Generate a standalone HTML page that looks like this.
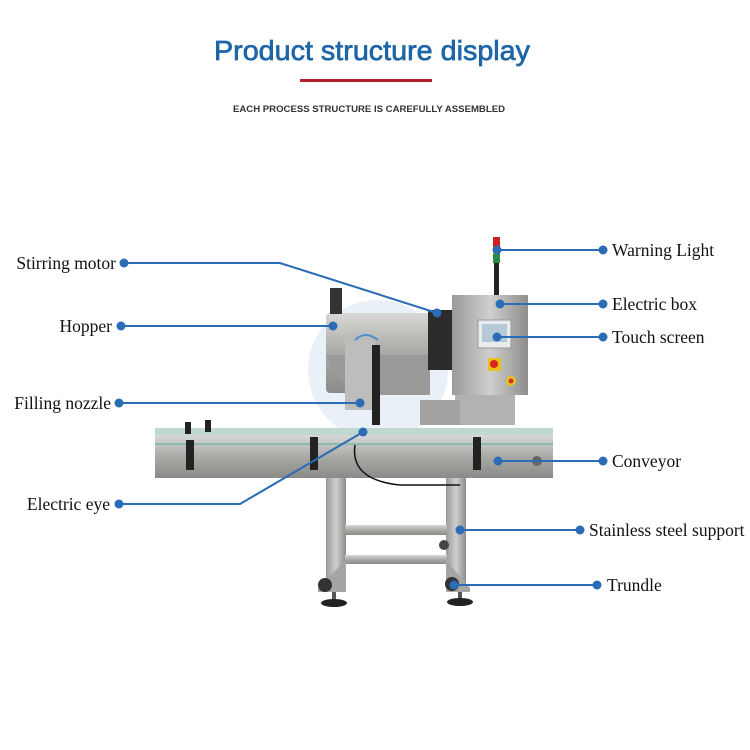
<!DOCTYPE html>
<html><head><meta charset="utf-8"><style>
html,body{margin:0;padding:0;background:#fff}
svg{display:block}
.lb{font-family:"Liberation Serif",serif;font-size:17.5px;fill:#111}
</style></head><body>
<svg width="750" height="750" viewBox="0 0 750 750" xmlns="http://www.w3.org/2000/svg">
<defs>
<linearGradient id="st" x1="0" y1="0" x2="0" y2="1"><stop offset="0" stop-color="#d8d8d6"/><stop offset="0.5" stop-color="#a9a9a6"/><stop offset="1" stop-color="#8a8a88"/></linearGradient>
<linearGradient id="st2" x1="0" y1="0" x2="1" y2="0"><stop offset="0" stop-color="#9a9a98"/><stop offset="0.5" stop-color="#cfcfcd"/><stop offset="1" stop-color="#8d8d8b"/></linearGradient>
</defs>
<text x="372" y="60" text-anchor="middle" font-family="Liberation Sans,sans-serif" font-size="28" fill="#1d66a8" stroke="#1d66a8" stroke-width="0.7" textLength="316" lengthAdjust="spacingAndGlyphs">Product structure display</text>
<rect x="300" y="79" width="132" height="3" fill="#b3202c"/>
<text x="369" y="112" text-anchor="middle" font-family="Liberation Sans,sans-serif" font-size="9" font-weight="bold" fill="#333" textLength="272" lengthAdjust="spacingAndGlyphs">EACH PROCESS STRUCTURE IS CAREFULLY ASSEMBLED</text>

<circle cx="378" cy="370" r="70" fill="#dbe6f3" opacity="0.6"/>

<rect x="326" y="478" width="20" height="110" fill="url(#st2)"/>
<rect x="446" y="478" width="20" height="110" fill="url(#st2)"/>
<rect x="345" y="525" width="102" height="10" fill="url(#st)"/>
<rect x="345" y="555" width="102" height="9" fill="url(#st)"/>
<path d="M318 588 L346 560 L346 592 L318 592Z" fill="#a5a5a3"/>
<path d="M446 560 L470 588 L470 592 L446 592Z" fill="#a5a5a3"/>
<circle cx="325" cy="585" r="7" fill="#333"/><circle cx="452" cy="584" r="7" fill="#333"/>
<circle cx="444" cy="545" r="5" fill="#444"/>
<rect x="332" y="592" width="4" height="8" fill="#555"/><rect x="458" y="592" width="4" height="8" fill="#555"/>
<ellipse cx="334" cy="603" rx="13" ry="4" fill="#222"/><ellipse cx="460" cy="602" rx="13" ry="4" fill="#222"/>

<rect x="326" y="313" width="104" height="80" rx="4" fill="url(#st)"/>
<path d="M326 355 Q340 395 378 395 L430 395 L430 355Z" fill="#9a9a98"/>
<rect x="330" y="288" width="12" height="26" fill="#333"/>
<rect x="345" y="340" width="30" height="70" fill="#bdbdbb"/>
<rect x="372" y="345" width="8" height="80" fill="#222"/>
<path d="M355 340 Q365 330 378 340" stroke="#4a8fd0" stroke-width="2" fill="none"/>
<rect x="428" y="310" width="26" height="60" fill="#2b2b2b"/>
<rect x="452" y="295" width="76" height="100" fill="url(#st2)"/>
<rect x="478" y="320" width="33" height="28" fill="#e8ecef" stroke="#999"/>
<rect x="482" y="324" width="25" height="18" fill="#b7c8d8"/>
<rect x="488" y="358" width="13" height="13" fill="#e6c21a"/><circle cx="494" cy="364" r="4" fill="#d22"/>
<circle cx="511" cy="381" r="5" fill="#e6c21a"/><circle cx="511" cy="381" r="2.5" fill="#c33"/>
<rect x="455" y="395" width="60" height="30" fill="#b2b2b0"/>
<rect x="420" y="400" width="40" height="25" fill="#a2a2a0"/>
<rect x="493" y="237" width="7" height="10" fill="#c22"/>
<rect x="493" y="247" width="7" height="7" fill="#e5b321"/>
<rect x="493" y="254" width="7" height="9" fill="#2a8a40"/>
<rect x="494" y="263" width="5" height="32" fill="#222"/>
<rect x="155" y="428" width="398" height="8" fill="#bfd9cf"/>
<rect x="155" y="435" width="398" height="43" fill="url(#st)"/>
<rect x="155" y="443" width="398" height="2" fill="#8ba"/>
<rect x="186" y="440" width="8" height="30" fill="#222"/><rect x="310" y="437" width="8" height="33" fill="#222"/><rect x="473" y="437" width="8" height="33" fill="#222"/>
<rect x="205" y="420" width="6" height="12" fill="#222"/><rect x="185" y="422" width="6" height="12" fill="#222"/>
<circle cx="537" cy="461" r="5" fill="#666"/>
<path d="M355 445 Q350 480 400 485 L460 485" stroke="#111" stroke-width="1.5" fill="none"/>

<g stroke="#2a6cb5" stroke-width="2" fill="none">
<polyline points="124,263 280,263 437,313"/>
<line x1="121" y1="326" x2="333" y2="326"/>
<line x1="119" y1="403" x2="360" y2="403"/>
<polyline points="119,504 240,504 363,432"/>
<line x1="497" y1="250" x2="603" y2="250"/>
<line x1="500" y1="304" x2="603" y2="304"/>
<line x1="497" y1="337" x2="603" y2="337"/>
<line x1="498" y1="461" x2="603" y2="461"/>
<line x1="460" y1="530" x2="580" y2="530"/>
<line x1="454" y1="585" x2="597" y2="585"/>
</g>
<g fill="#2a6cb5">
<circle cx="124" cy="263" r="4.5"/><circle cx="437" cy="313" r="4.5"/>
<circle cx="121" cy="326" r="4.5"/><circle cx="333" cy="326" r="4.5"/>
<circle cx="119" cy="403" r="4.5"/><circle cx="360" cy="403" r="4.5"/>
<circle cx="119" cy="504" r="4.5"/><circle cx="363" cy="432" r="4.5"/>
<circle cx="497" cy="250" r="4.5"/><circle cx="603" cy="250" r="4.5"/>
<circle cx="500" cy="304" r="4.5"/><circle cx="603" cy="304" r="4.5"/>
<circle cx="497" cy="337" r="4.5"/><circle cx="603" cy="337" r="4.5"/>
<circle cx="498" cy="461" r="4.5"/><circle cx="603" cy="461" r="4.5"/>
<circle cx="460" cy="530" r="4.5"/><circle cx="580" cy="530" r="4.5"/>
<circle cx="454" cy="585" r="4.5"/><circle cx="597" cy="585" r="4.5"/>
</g>
<text class="lb" x="116" y="269" text-anchor="end">Stirring motor</text>
<text class="lb" x="112" y="332" text-anchor="end">Hopper</text>
<text class="lb" x="111" y="409" text-anchor="end">Filling nozzle</text>
<text class="lb" x="110" y="510" text-anchor="end">Electric eye</text>
<text class="lb" x="612" y="256">Warning Light</text>
<text class="lb" x="612" y="310">Electric box</text>
<text class="lb" x="612" y="343">Touch screen</text>
<text class="lb" x="612" y="467">Conveyor</text>
<text class="lb" x="589" y="536">Stainless steel support</text>
<text class="lb" x="607" y="591">Trundle</text>
</svg>
</body></html>
